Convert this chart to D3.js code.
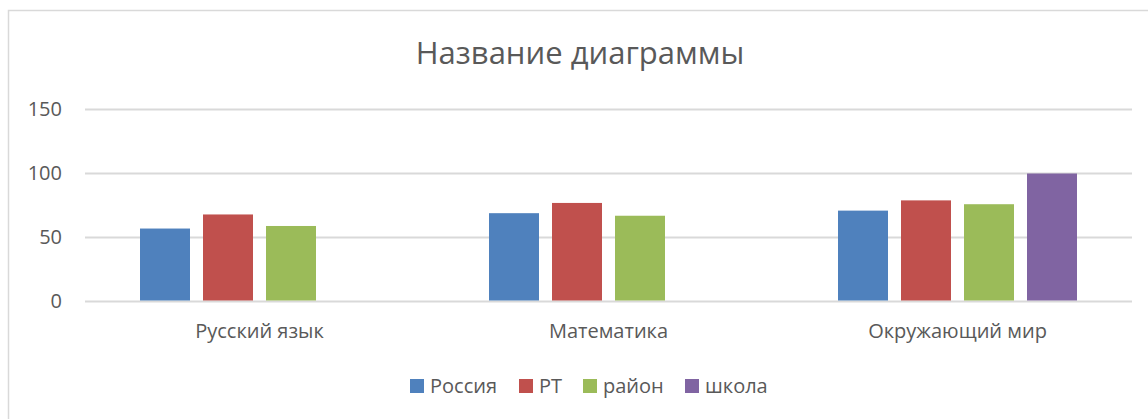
<!doctype html>
<html>
<head>
<meta charset="utf-8">
<script src="https://d3js.org/d3.v7.min.js"></script>
<style>
  body { margin: 0; background: #fff; }
  text { font-family: "Open Sans", sans-serif; fill: #595959; }
</style>
</head>
<body>
<script>
// data
var categories = ["Русский язык", "Математика", "Окружающий мир"];
var seriesNames = ["Россия", "РТ", "район", "школа"];
var russia = [57, 69, 71];
var rt = [68, 77, 79];
var rayon = [59, 67, 76];
var shkola = [null, null, 100];
var yTicks = [0, 50, 100, 150];
var colors = ["#4F81BD", "#C0504D", "#9BBB59", "#8064A2"];

var seriesValues = [russia, rt, rayon, shkola];

var width = 1148, height = 419;
var plot = {left: 85, right: 1132, top: 109.5, bottom: 301.5};

var svg = d3.select("body").append("svg")
    .attr("width", width)
    .attr("height", height);

// chart border
svg.append("rect")
    .attr("x", 8.5).attr("y", 10.5)
    .attr("width", width).attr("height", height)
    .attr("fill", "none")
    .attr("stroke", "#d9d9d9")
    .attr("stroke-width", 1.5);

// title
svg.append("text")
    .attr("x", 580)
    .attr("y", 64)
    .attr("text-anchor", "middle")
    .attr("font-size", "31px")
    .text("Название диаграммы");

// scales
var x = d3.scaleBand().domain(categories).range([plot.left, plot.right]);
var x1 = d3.scaleBand().domain(seriesNames).range([-119.5, 119.5]).paddingInner(13 / 63);
var y = d3.scaleLinear().domain([0, 150]).range([plot.bottom, plot.top]);

// gridlines
svg.append("g")
    .selectAll("line")
    .data(yTicks)
    .join("line")
    .attr("x1", plot.left).attr("x2", plot.right)
    .attr("y1", function(d) { return y(d); })
    .attr("y2", function(d) { return y(d); })
    .attr("stroke", "#d9d9d9")
    .attr("stroke-width", 2);

// y axis labels
var yAxis = svg.append("g")
    .attr("transform", "translate(" + 62 + ",0)")
    .call(d3.axisLeft(y).tickValues(yTicks).tickSize(0).tickPadding(0));
yAxis.select(".domain").remove();
yAxis.selectAll("text")
    .attr("font-size", "20px")
    .attr("font-family", "Open Sans, sans-serif")
    .attr("fill", "#595959");

// bars
var bars = [];
seriesValues.forEach(function(vals, si) {
  vals.forEach(function(v, ci) {
    if (v != null) bars.push({series: seriesNames[si], si: si, cat: categories[ci], value: v});
  });
});

svg.append("g")
    .selectAll("rect")
    .data(bars)
    .join("rect")
    .attr("x", function(d) { return x(d.cat) + x.bandwidth() / 2 + x1(d.series); })
    .attr("width", x1.bandwidth())
    .attr("y", function(d) { return y(d.value); })
    .attr("height", function(d) { return y(0) - y(d.value) - 1; })
    .attr("fill", function(d) { return colors[d.si]; });

// category axis labels
var xAxis = svg.append("g")
    .attr("transform", "translate(0," + plot.bottom + ")")
    .call(d3.axisBottom(x).tickSize(0).tickPadding(0));
xAxis.select(".domain").remove();
xAxis.selectAll("text")
    .attr("y", 36)
    .attr("dy", 0)
    .attr("font-size", "20px")
    .attr("font-family", "Open Sans, sans-serif")
    .attr("fill", "#595959");

// legend
var legendX = [410, 519, 583, 685];
var legend = svg.append("g")
    .selectAll("g")
    .data(seriesNames)
    .join("g")
    .attr("transform", function(d, i) { return "translate(" + legendX[i] + ",379)"; });
legend.append("rect")
    .attr("width", 14).attr("height", 14)
    .attr("fill", function(d, i) { return colors[i]; });
legend.append("text")
    .attr("x", 20)
    .attr("y", 14)
    .attr("font-size", "20px")
    .text(function(d) { return d; });
</script>
</body>
</html>
